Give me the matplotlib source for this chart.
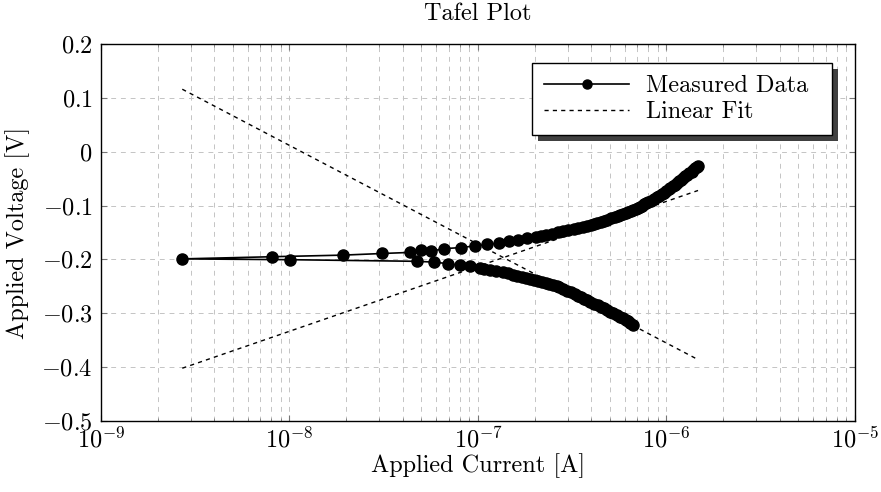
import matplotlib.pyplot as plt
import matplotlib.patheffects as pe
from matplotlib.ticker import LogLocator, NullFormatter, MultipleLocator

plt.rcParams["font.family"] = "serif"
plt.rcParams["font.serif"] = ["cmr10", "DejaVu Serif"]
plt.rcParams["mathtext.fontset"] = "cm"
plt.rcParams["axes.formatter.use_mathtext"] = True

FS = 17.5

# measured scan (current in A, voltage in V), in scan order:
# cathodic branch, through the corrosion potential, then anodic branch
current = [
    6.61e-7, 6.43e-7, 6.25e-7, 6.07e-7, 5.90e-7, 5.66e-7, 5.44e-7, 5.22e-7,
    5.04e-7, 4.85e-7, 4.67e-7, 4.48e-7, 4.31e-7, 4.13e-7, 3.94e-7, 3.80e-7,
    3.66e-7, 3.52e-7, 3.40e-7, 3.27e-7, 3.13e-7, 2.98e-7, 2.84e-7, 2.70e-7,
    2.61e-7, 2.50e-7, 2.39e-7, 2.29e-7, 2.19e-7, 2.09e-7, 1.99e-7, 1.89e-7,
    1.80e-7, 1.71e-7, 1.62e-7, 1.53e-7, 1.45e-7, 1.35e-7, 1.25e-7, 1.16e-7,
    1.08e-7, 1.02e-7, 9.07e-8, 8.03e-8, 6.96e-8, 5.86e-8, 4.73e-8, 1.01e-8,
    2.70e-9, 8.07e-9, 1.93e-8, 3.10e-8, 4.35e-8, 4.96e-8, 5.60e-8, 6.60e-8,
    8.10e-8, 9.60e-8, 1.12e-7, 1.29e-7, 1.46e-7, 1.64e-7, 1.83e-7, 2.04e-7,
    2.16e-7, 2.30e-7, 2.46e-7, 2.65e-7, 2.82e-7, 3.01e-7, 3.23e-7, 3.41e-7,
    3.59e-7, 3.78e-7, 3.98e-7, 4.13e-7, 4.30e-7, 4.47e-7, 4.66e-7, 4.86e-7,
    5.08e-7, 5.30e-7, 5.50e-7, 5.70e-7, 5.89e-7, 6.09e-7, 6.28e-7, 6.48e-7,
    6.68e-7, 6.85e-7, 7.03e-7, 7.20e-7, 7.39e-7, 7.60e-7, 7.80e-7, 8.00e-7,
    8.28e-7, 8.57e-7, 8.87e-7, 9.16e-7, 9.46e-7, 9.75e-7, 1.00e-6, 1.03e-6,
    1.05e-6, 1.08e-6, 1.11e-6, 1.14e-6, 1.17e-6, 1.20e-6, 1.23e-6, 1.26e-6,
    1.29e-6, 1.32e-6, 1.36e-6, 1.39e-6, 1.42e-6, 1.45e-6, 1.47e-6,
]
voltage = [
    -0.321, -0.318, -0.315, -0.312, -0.309, -0.306, -0.303, -0.300,
    -0.297, -0.294, -0.291, -0.288, -0.285, -0.282, -0.279, -0.276,
    -0.273, -0.270, -0.267, -0.264, -0.261, -0.258, -0.255, -0.252,
    -0.250, -0.248, -0.246, -0.244, -0.242, -0.240, -0.238, -0.236,
    -0.234, -0.232, -0.230, -0.228, -0.226, -0.224, -0.222, -0.220,
    -0.218, -0.216, -0.213, -0.211, -0.208, -0.205, -0.2035, -0.2005,
    -0.199, -0.195, -0.192, -0.189, -0.187, -0.183, -0.185, -0.180,
    -0.178, -0.175, -0.172, -0.170, -0.166, -0.1635, -0.161, -0.158,
    -0.156, -0.154, -0.152, -0.150, -0.148, -0.146, -0.144, -0.142,
    -0.140, -0.138, -0.136, -0.134, -0.132, -0.130, -0.128, -0.126,
    -0.124, -0.122, -0.120, -0.118, -0.116, -0.114, -0.112, -0.110,
    -0.108, -0.106, -0.104, -0.102, -0.100, -0.098, -0.096, -0.094,
    -0.091, -0.088, -0.085, -0.082, -0.079, -0.076, -0.073, -0.070,
    -0.067, -0.064, -0.061, -0.058, -0.055, -0.052, -0.049, -0.046,
    -0.043, -0.040, -0.037, -0.034, -0.031, -0.028, -0.026,
]

# Tafel fits (end points)
fit_current = [2.7e-9, 1.47e-6]
fit_anodic = [-0.402, -0.072]
fit_cathodic = [0.116, -0.386]

fig = plt.figure(figsize=(8.81, 4.92), dpi=100)
ax = fig.add_axes([0.1146, 0.1443, 0.8559, 0.7663])

ax.plot(current, voltage, color="black", lw=1.2, marker="o", ms=8,
        label="Measured Data", zorder=3)
ax.plot(fit_current, fit_anodic, color="black", lw=1.0, ls=(0, (3, 3)),
        label="Linear Fit", zorder=2)
ax.plot(fit_current, fit_cathodic, color="black", lw=1.0, ls=(0, (3, 3)),
        zorder=2)

ax.set_xscale("log")
ax.set_xlim(1e-9, 1e-5)
ax.set_ylim(-0.5, 0.2)
ax.yaxis.set_major_locator(MultipleLocator(0.1))
ax.xaxis.set_major_locator(LogLocator(base=10, numticks=10))
ax.xaxis.set_minor_locator(LogLocator(base=10, subs=range(2, 10), numticks=10))
ax.xaxis.set_minor_formatter(NullFormatter())
ax.yaxis.set_major_formatter(plt.FuncFormatter(
    lambda v, p: "0" if abs(v) < 1e-9 else f"${v:.1f}$"))

ax.grid(which="major", color="#c4c4c4", ls=(0, (5, 5)), lw=0.7)
ax.grid(which="minor", axis="x", color="#c4c4c4", ls=(0, (5, 5)), lw=0.7)
ax.set_axisbelow(True)

ax.tick_params(which="both", direction="in", top=True, right=True,
               labelsize=FS, color="#777777")
ax.tick_params(axis="y", pad=6)
ax.tick_params(axis="x", pad=4)
ax.tick_params(which="major", length=4)
ax.tick_params(which="minor", length=2.5)
for s in ax.spines.values():
    s.set_linewidth(1.0)

ax.set_xlabel("Applied Current [A]", fontsize=FS, va="center")
ax.xaxis.set_label_coords(0.5, -0.119)
ax.set_ylabel("Applied Voltage [V]", fontsize=FS, va="center")
ax.yaxis.set_label_coords(-0.110, 0.5)
ax.set_title("Tafel Plot", fontsize=FS, y=1.08, va="center", pad=0)

leg = ax.legend(loc="upper right", bbox_to_anchor=(0.5716, 0.7, 0.3979, 0.2496),
                mode="expand", fontsize=FS, numpoints=1, fancybox=False,
                framealpha=1, edgecolor="black", handlelength=3.5,
                handletextpad=0.7, borderpad=0.5, labelspacing=0.15,
                borderaxespad=0)
leg.get_frame().set_linewidth(1.0)
leg.legend_handles[0].set_markersize(6.5)
leg.get_frame().set_path_effects([pe.SimplePatchShadow(offset=(4.3, -4.3),
                                                        shadow_rgbFace="#404040",
                                                        alpha=1), pe.Normal()])

fig.savefig("out.png", dpi=100)
